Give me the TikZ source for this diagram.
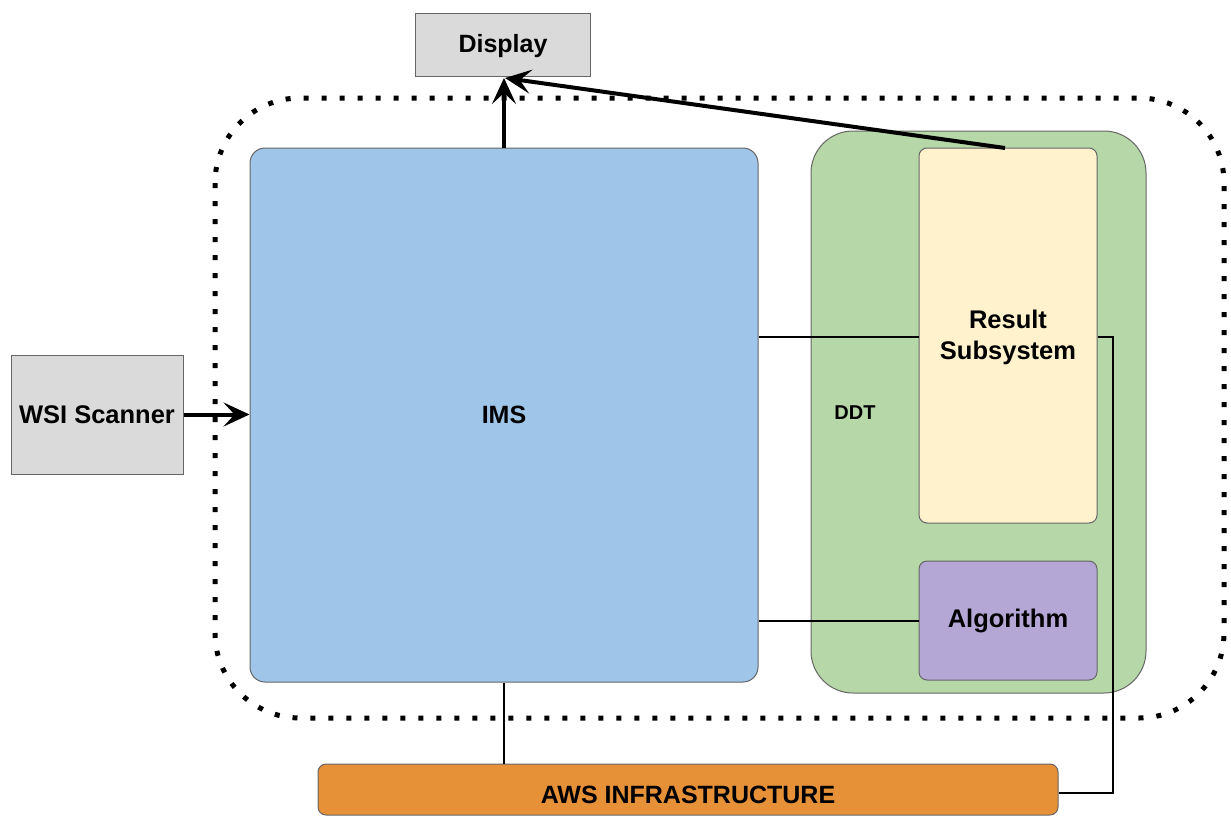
\documentclass[tikz,border=0pt]{standalone}
\usepackage{fontspec}
\setmainfont{Liberation Sans}
\usetikzlibrary{arrows.meta}
\definecolor{grayfill}{HTML}{DADADA}
\definecolor{imsblue}{HTML}{9FC5E8}
\definecolor{ddtgreen}{HTML}{B6D7A8}
\definecolor{resyellow}{HTML}{FFF2CC}
\definecolor{algpurple}{HTML}{B4A7D6}
\definecolor{awsorange}{HTML}{E69138}
\definecolor{edgegray}{HTML}{666666}
\tikzset{
  box/.style={draw=edgegray, line width=1pt, font=\bfseries, align=center, inner sep=0pt},
  thickarrow/.style={line width=4pt, -{Stealth[length=26pt, width=24pt, inset=11pt]}},
  thinline/.style={line width=1.3pt},
}
\begin{document}
\begin{tikzpicture}[x=1pt,y=-1pt]
\useasboundingbox (0,0) rectangle (1231,819);
% dotted container
\draw[line width=5pt, dash pattern=on 5pt off 13pt, rounded corners=85pt] (215,98) rectangle (1224,718);
\node[box, fill=grayfill, minimum width=175pt, minimum height=63pt] (display) at (502.5,44.5) {};
\node[font=\bfseries\fontsize{25}{30}\selectfont] (displaylabel) at (503,46) {Display};
\node[box, fill=imsblue, rounded corners=15pt, minimum width=508pt, minimum height=534pt, font=\bfseries\fontsize{25}{30}\selectfont] (ims) at (504,415) {IMS};
\node[box, fill=ddtgreen, rounded corners=42pt, minimum width=335pt, minimum height=562pt] (ddt) at (978.5,412) {};
\node[font=\bfseries\fontsize{20}{24}\selectfont] (ddtlabel) at (855,413) {DDT};
\node[box, fill=resyellow, rounded corners=8pt, minimum width=178pt, minimum height=375pt] (result) at (1008,335.5) {};
\node[font=\bfseries\fontsize{25.5}{31}\selectfont, align=center] (resultlabel) at (1008,337) {Result\\Subsystem};
\node[box, fill=algpurple, rounded corners=8pt, minimum width=178pt, minimum height=119pt, font=\bfseries\fontsize{25.5}{30}\selectfont] (alg) at (1008,620.5) {Algorithm};
\node[box, fill=grayfill, minimum width=172pt, minimum height=119pt, font=\bfseries\fontsize{25.5}{30}\selectfont] (wsi) at (97,414.5) {WSI Scanner};
\node[box, fill=awsorange, rounded corners=8pt, minimum width=740pt, minimum height=51pt] (aws) at (688,789.5) {};
\node[font=\bfseries\fontsize{25}{30}\selectfont] (awslabel) at (688,795) {AWS INFRASTRUCTURE};
% connectors
\coordinate (disptip) at (505,78);
\draw[thickarrow] (ims.north) -- (ims.north |- disptip);
\draw[thickarrow] (1005,148) coordinate (resout) -- (disptip);
\draw[thickarrow] (wsi.east) -- (ims.west |- wsi.east);
\draw[thinline] (ims.east |- 0,337) -- (result.west |- 0,337);
\draw[thinline] (ims.east |- 0,621) -- (alg.west |- 0,621);
\draw[thinline] (ims.south) -- (ims.south |- aws.north);
\coordinate (bend1) at (1113,337);
\coordinate (bend2) at (1113,793);
\draw[thinline] (result.east |- bend1) -- (bend1) -- (bend2) -- (aws.east |- bend2);
\end{tikzpicture}
\end{document}
